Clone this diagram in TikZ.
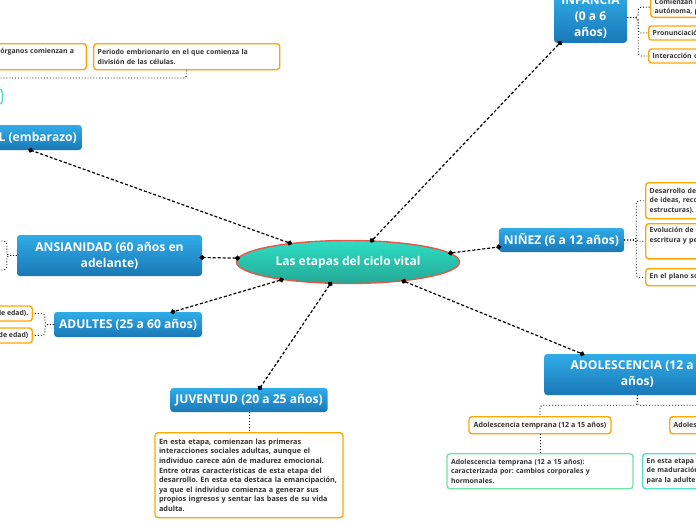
\documentclass[tikz,border=0pt]{standalone}
\usepackage{fontspec}
\setmainfont{Open Sans}
\usepackage{tikz}
\usetikzlibrary{arrows.meta, positioning, shapes.geometric, calc}
\frenchspacing
\definecolor{topicblue}{RGB}{48,172,232}
\definecolor{topicdark}{RGB}{26,120,182}
\definecolor{centretop}{RGB}{46,222,196}
\definecolor{centrebot}{RGB}{36,168,150}
\definecolor{centrered}{RGB}{232,88,72}
\definecolor{noteorange}{RGB}{255,166,0}
\definecolor{notegreen}{RGB}{118,226,164}
\definecolor{noteteal}{RGB}{84,222,206}
\definecolor{notetext}{RGB}{51,51,51}
\tikzset{
  central/.style={ellipse, draw=centrered, line width=1.4pt, top color=centretop, bottom color=centrebot,
                  text=white, font=\fontsize{12}{14}\selectfont\bfseries, minimum width=223pt, minimum height=43pt},
  topic/.style={top color=topicblue, bottom color=topicdark, rounded corners=3pt,
                text=white, font=\fontsize{12.1}{16}\selectfont\bfseries, align=center, inner xsep=5pt, inner ysep=4pt},
  note/.style={draw=noteorange, line width=1.4pt, fill=white, rounded corners=3pt,
               font=\fontsize{6.9}{9.5}\selectfont\bfseries, text=notetext, align=left, inner sep=4pt},
  greennote/.style={note, draw=notegreen},
  tealnote/.style={note, draw=noteteal},
  link/.style={draw, line width=1.2pt, dash pattern=on 3pt off 2pt,
               {Circle[length=5pt]}-{Circle[length=5pt]}, shorten <=-2.5pt, shorten >=-2.5pt},
  sub/.style={draw, line width=0.9pt, dotted, rounded corners=3pt},
}

\begin{document}
\begin{tikzpicture}[x=1pt, y=-1pt]
\useasboundingbox (0,0) rectangle (696,520);
\clip (0,0) rectangle (696,520);
\fill[white] (0,0) rectangle (696,520);

\node[central] (vital) at (348,262) {Las etapas del ciclo vital};

\node[topic, anchor=east, minimum height=25pt] (emb) at (82,137.5) {L (embarazo)};
\node[topic, anchor=south, minimum width=73pt] (inf) at (590.5,43) {INFANCIA\\(0 a 6\\años)};
\node[topic, minimum width=125pt, minimum height=24pt] (nin) at (561.5,240) {NIÑEZ (6 a 12 años)};
\node[topic, minimum width=185pt, minimum height=41pt] (ans) at (109.5,255.5) {ANSIANIDAD (60 años en\\adelante)};
\node[topic, minimum width=148pt, minimum height=25pt] (adu) at (128,324.5) {ADULTES (25 a 60 años)};
\node[topic, minimum width=156pt, minimum height=24pt] (juv) at (249,400) {JUVENTUD (20 a 25 años)};
\node[topic, anchor=west, minimum width=186pt, minimum height=41pt] (ado) at (544,374.5) {ADOLESCENCIA (12 a 2\\años)};

\draw[link] (vital.162) -- ([xshift=-7pt]emb.south);
\draw[link] (vital.42) -- ([xshift=6pt]inf.south west);
\draw[link] (vital.5) -- ([yshift=-7pt]nin.west);
\draw[link] (vital.178) -- ([yshift=-2pt]ans.east);
\draw[link] (vital.195) -- ([xshift=45pt]adu.north);
\draw[link] (vital.231) -- ([xshift=11pt]juv.north);
\draw[link] (vital.341) -- ([xshift=38pt]ado.north west);

% embarazo
\node[note, anchor=north east, text width=82pt, minimum height=26pt] (orga) at (87,43) {órganos comienzan a\\ \strut};
\node[note, anchor=north west, text width=178pt, minimum height=26pt] (perb) at (93,43) {Periodo embrionario en el que comienza la\\división de las células.};
\node[tealnote, anchor=east, minimum width=20pt, minimum height=15pt] (cel) at (3,96.5) {};
\coordinate (embup) at (-5,78);
\draw[sub] (perb.south) |- (embup);

% infancia
\node[note, anchor=south west, text width=60pt, inner ysep=2pt] (infa) at (650,18) {Comienzan l\\autónoma, p};
\node[note, anchor=west, text width=60pt, minimum height=14pt] (infb) at (648,33) {Pronunciació};
\node[note, anchor=west, text width=60pt, minimum height=14pt] (infc) at (648,56) {Interacción c};
\draw[sub] (inf.east) -- ++(11,0) |- (infa.west);
\draw[sub] (inf.east) -- ++(11,0) |- (infb.west);
\draw[sub] (inf.east) -- ++(11,0) |- (infc.west);

% niñez
\node[note, anchor=north west, text width=60pt, minimum height=36pt] (nina) at (645,182) {Desarrollo de\\de ideas, reco\\estructuras).};
\node[note, anchor=north west, text width=60pt, minimum height=35pt] (ninb) at (645,223) {Evolución de\\escritura y pe\\ \strut};
\node[note, anchor=north west, text width=60pt, minimum height=17pt] (ninc) at (645,268) {En el plano so};
\draw[sub] (nin.east) -- ++(12,0) |- (nina.west);
\draw[sub] (nin.east) -- ++(12,0) |- (ninb.west);
\draw[sub] (nin.east) -- ++(12,0) |- (ninc.west);

% ansianidad
\coordinate (ansup) at (-5,241);
\coordinate (ansdown) at (-5,270);
\draw[sub] (ans.west) -- ++(-10,0) |- (ansup);
\draw[sub] (ans.west) -- ++(-10,0) |- (ansdown);

% adultes
\node[note, anchor=east, minimum height=15pt] (adua) at (33,313.5) {de edad).};
\node[note, anchor=east, minimum height=15pt] (adub) at (33,335.5) {de edad)};
\draw[sub] (adu.west) -- ++(-9,0) |- (adua.east);
\draw[sub] (adu.west) -- ++(-9,0) |- (adub.east);

% juventud
\node[note, anchor=north, text width=180pt, minimum height=85pt, font=\fontsize{7.3}{9.6}\selectfont\bfseries] (juva) at (249,432) {En esta etapa, comienzan las primeras\\interacciones sociales adultas, aunque el\\individuo carece aún de madurez emocional.\\Entre otras características de esta etapa del\\desarrollo. En esta eta destaca la emancipación,\\ya que el individuo comienza a generar sus\\propios ingresos y sentar las bases de su vida\\adulta.};
\draw[sub] (juv.south) -- (juva.north);

% adolescencia
\node[note, anchor=north, minimum width=142pt, minimum height=17pt, font=\fontsize{7.1}{9.5}\selectfont\bfseries] (adoa) at (540,416) {Adolescencia temprana (12 a 15 años)};
\node[note, anchor=north west, text width=130pt, minimum height=17pt] (adob) at (669,416) {Adoles};
\node[greennote, anchor=north, text width=178pt, minimum height=35pt] (adoc) at (540,453) {Adolescencia temprana (12 a 15 años):\\caracterizada por: cambios corporales y\\hormonales.};
\node[tealnote, anchor=north west, text width=130pt, minimum height=35pt] (adod) at (642,453) {En esta etapa\\de maduración\\para la adulte};
\draw[sub] (ado.south) -- ++(0,10) -| (adoa.north);
\draw[sub] (ado.south) -- ++(0,10) -| (adob.north);
\draw[sub] (adoa.south) -- (adoc.north);
\end{tikzpicture}
\end{document}
